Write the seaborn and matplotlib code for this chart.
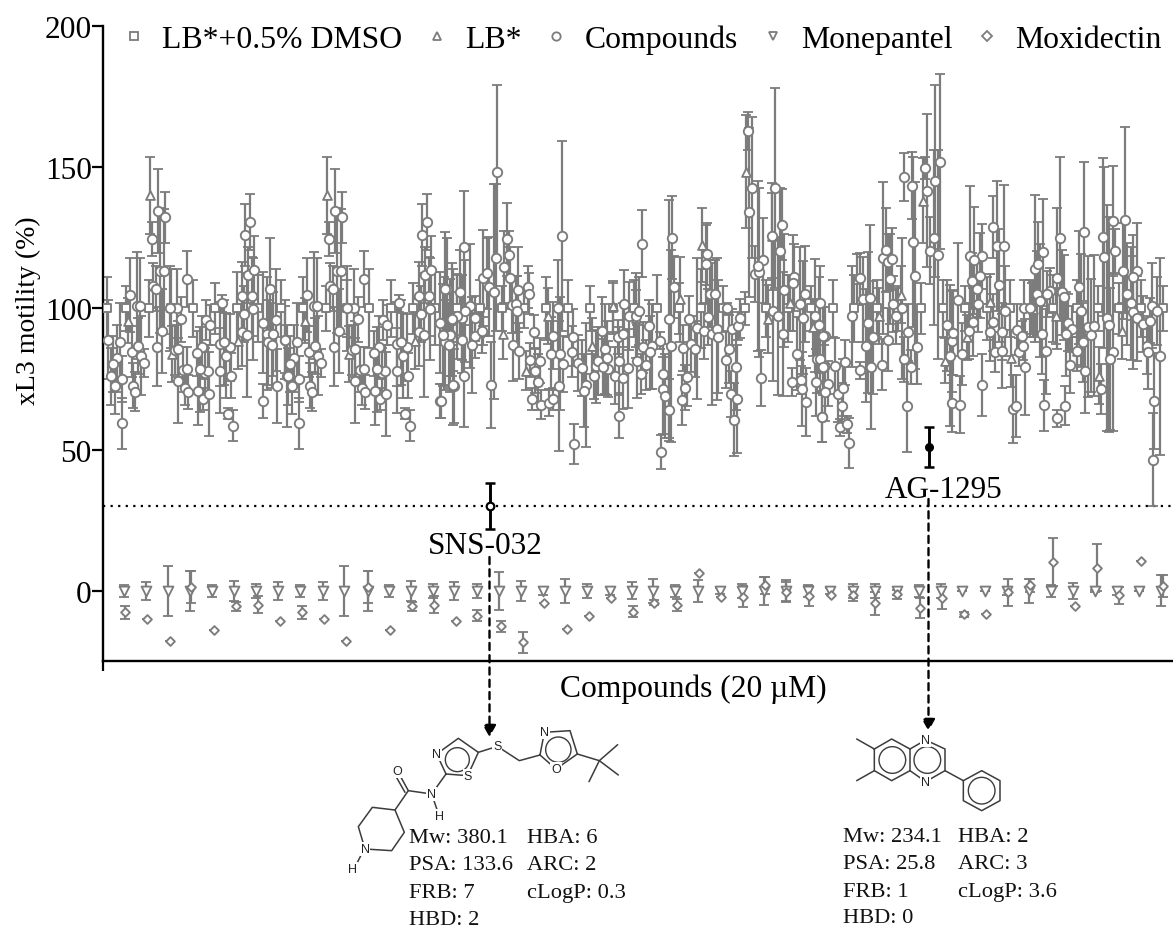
import matplotlib
matplotlib.use("Agg")
import matplotlib.pyplot as plt
import pandas as pd
import seaborn as sns
from matplotlib.lines import Line2D
from matplotlib.patches import Circle

# ---------- data ----------
dmso_x = [4, 23, 46, 68, 90, 112, 134, 155, 178, 200, 223, 244, 266, 288, 310, 332, 354, 377,
          399, 421, 443, 465, 487, 510, 531, 554, 576, 598, 620, 642, 663, 685, 708, 730,
          751, 774, 795, 818, 840, 862, 884, 907, 929, 950, 974, 995, 1016, 1038, 1060]
dmso_v = [100] * len(dmso_x)
dmso_e = [11, 8, 10, 14, 10, 9, 13, 12, 10, 11, 8, 10, 14, 10, 9, 13, 12, 10,
          8, 7, 11, 10, 8, 9, 10, 12, 9, 14, 8, 6, 10, 12, 8, 10,
          12, 10, 8, 9, 10, 8, 11, 10, 9, 12, 10, 8, 9, 10, 8]

lb_x = [25, 47, 69, 135, 202, 224, 246, 312, 380, 400, 423, 445, 489, 510, 533, 577, 599, 643, 665,
        669, 687, 710, 754, 776, 798, 820, 842, 864, 887, 908, 930, 953, 974, 996, 1019]
lb_v = [95.7, 140, 83.9, 88.6, 95.7, 140, 83.9, 88.6, 92, 91, 78, 97.4, 86.8, 100.7, 96.5, 103.3, 122.4,
        148.4, 96.3, 125.8, 102, 93.3, 110.4, 97.4, 104.9, 138.2, 81.5, 89.8, 102.2, 82.3, 99.8, 97.4, 85,
        76.2, 92.1]
lb_e = [8, 13.6, 10, 10, 8, 13.6, 10, 10, 5, 9, 7, 10, 10, 9, 10, 15, 13,
        20, 12, 15, 10, 10, 9, 10, 10, 15, 8, 8, 10, 10, 10, 10, 7,
        10, 10]

# first run of compounds
run1_x = [5, 17, 14, 10, 8, 19, 12, 19, 29, 35,
          38, 41, 30, 32, 27, 34, 37, 49, 55, 62,
          57, 61, 50, 53, 59, 54, 84, 78, 74, 67,
          72, 75, 80, 84, 75, 82, 85, 95, 100, 106,
          102, 105, 97, 103, 107, 119, 99, 94, 117, 123,
          127, 117, 121, 128, 125, 130, 139, 141, 139, 144,
          149, 150, 142, 147, 145, 151, 167, 160, 164, 165,
          169, 170, 173, 174, 160, 182, 184]
run1_v = [89, 88, 82.3, 80.3, 76, 75, 72.6, 59.4, 84.7, 86.8,
          83.3, 80.7, 72.6, 70.6, 104.8, 101, 100.7, 124.6, 134.5, 132.3,
          113.4, 113.1, 108, 107, 92, 86.4, 110.4, 96.2, 100, 100,
          85.3, 85.6, 78.3, 78.5, 74.4, 72, 70.3, 70.9, 67.9, 69.7,
          77, 78, 78.5, 96, 94.2, 101.9, 86.2, 84.2, 78, 83.3,
          86.2, 87.4, 88, 76.2, 62.8, 58.5, 104.5, 98, 91.5, 90.7,
          104.3, 99.8, 126, 130.7, 111.8, 113.6, 107, 95, 91, 88,
          87, 91, 96, 72.6, 67.3, 89, 76.2]
run1_e = [14, 14, 12, 10, 10, 8, 10, 9, 9, 10,
          14, 5, 8, 7, 13, 19, 17, 6, 15, 9,
          22, 22, 8, 8, 15, 14, 10, 8, 14, 15,
          9, 10, 8, 8, 15, 6, 6, 12, 4, 15,
          9, 9, 15, 7, 7, 3, 11, 8, 15, 15,
          12, 15, 15, 8, 2, 5.5, 12, 10, 12, 22,
          14, 18, 11, 10, 10, 12, 18, 18, 20, 15,
          15, 15, 18, 13, 6, 12, 18]

# the same run appears a second time further along the axis
run2_x = [182, 194, 191, 187, 185, 196, 189, 196, 206, 212,
          215, 218, 207, 209, 204, 211, 214, 226, 232, 239,
          234, 238, 227, 230, 236, 231, 261, 255, 251, 244,
          249, 252, 257, 261, 252, 259, 262, 272, 277, 283,
          279, 282, 274, 280, 284, 296, 276, 271, 294, 300,
          304, 294, 298, 305, 302, 307, 316, 318, 316, 321,
          326, 327, 319, 324, 322, 328, 344, 337, 341, 342,
          346, 347, 350, 351, 337, 359, 361]
run2_v = [89, 88, 82.3, 80.3, 76, 75, 72.6, 59.4, 84.7, 86.8,
          83.3, 80.7, 72.6, 70.6, 104.8, 101, 100.7, 124.6, 134.5, 132.3,
          113.4, 113.1, 108, 107, 92, 86.4, 110.4, 96.2, 100, 100,
          85.3, 85.6, 78.3, 78.5, 74.4, 72, 70.3, 70.9, 67.9, 69.7,
          77, 78, 78.5, 96, 94.2, 101.9, 86.2, 84.2, 78, 83.3,
          86.2, 87.4, 88, 76.2, 62.8, 58.5, 104.5, 98, 91.5, 90.7,
          104.3, 99.8, 126, 130.7, 111.8, 113.6, 107, 95, 91, 88,
          87, 91, 96, 72.6, 67.3, 89, 76.2]
run2_e = [14, 14, 12, 10, 10, 8, 10, 9, 9, 10,
          14, 5, 8, 7, 13, 19, 17, 6, 15, 9,
          22, 22, 8, 8, 15, 14, 10, 8, 14, 15,
          9, 10, 8, 8, 15, 6, 6, 12, 4, 15,
          9, 9, 15, 7, 7, 3, 11, 8, 15, 15,
          12, 15, 15, 8, 2, 5.5, 12, 10, 12, 22,
          14, 18, 11, 10, 10, 12, 18, 18, 20, 15,
          15, 15, 18, 13, 6, 12, 18]

run3_x = [338, 350, 369, 372, 372, 379, 361, 357, 359, 367,
          362, 354, 347, 340, 342, 349]
run3_v = [67.3, 72.9, 87, 96.5, 90.3, 92.1, 121.6, 105.7, 96.8, 101,
          99.2, 97.2, 90.6, 90.6, 106.9, 96.2]
run3_e = [6, 14, 17, 8, 8, 8, 20, 15, 15, 22,
          18, 15, 20, 18, 20, 20]

mid_x = [394, 459, 539, 569, 672, 645, 649, 646, 679, 669,
         660, 677, 404, 406, 401, 393, 407, 380, 384, 386,
         391, 415, 425, 426, 409, 413, 414, 410, 416, 388,
         431, 427, 437, 432, 435, 429, 438, 446, 450, 448,
         450, 455, 457, 460, 456, 471, 469, 470, 475, 479,
         483, 481, 491, 493, 495, 499, 502, 504, 505, 500,
         512, 515, 516, 520, 516, 520, 525, 521, 526, 533,
         536, 534, 538, 543, 540, 546, 549, 547, 557, 560,
         560, 562, 566, 566, 568, 571, 558, 580, 584, 582,
         579, 586, 588, 592, 594, 601, 604, 603, 605, 607,
         612, 609, 614, 615, 624, 626, 623, 633, 628, 634,
         631, 629, 635, 637, 658, 652, 656, 655, 670, 675,
         680, 681, 691, 690, 697, 702, 700, 694, 698, 699,
         689, 703, 717, 712, 716, 714, 722, 721, 713, 719]
mid_v = [148.4, 125.8, 123, 125, 142.5, 162.7, 142.8, 134, 129.7, 125.5,
         117, 120.5, 124.5, 119, 114.8, 118, 110.7, 110.7, 112.4, 107.7,
         106, 106.6, 107.7, 105.3, 101.2, 101.6, 99, 87, 85, 73,
         91.8, 81.8, 81.5, 78, 74, 68, 66, 66.7, 68, 84,
         90.4, 100, 84, 80.3, 72.6, 52, 84.7, 89.8, 80.7, 79,
         73, 70.9, 76, 79.5, 81.5, 92, 85.6, 82.5, 78.6, 79.2,
         76.2, 89.8, 81.5, 75.3, 62, 91, 78.8, 101.6, 97.4, 97.4,
         99, 81.3, 76.8, 80, 86.2, 93.9, 86.6, 84.5, 88.6, 76.8,
         71.5, 69, 64, 96.3, 86.6, 107.5, 49.3, 86, 75.6, 72,
         67.6, 96.3, 87.4, 85.6, 93, 92, 119.3, 115.7, 96.9, 105.3,
         105.3, 91, 92.7, 90, 100, 85.6, 81.8, 79.2, 69.7, 68,
         60.6, 92.7, 93.9, 96.5, 75.4, 112.2, 112.8, 115, 99.2, 97.2,
         91, 106.5, 111, 109, 101.6, 105, 96.8, 84, 74.7, 71.5,
         74, 67, 102, 97.4, 94, 82, 90.4, 79.2, 73.8, 61.7]
mid_e = [30.7, 33.6, 12, 14.7, 35.4, 6.7, 25, 30, 12.6, 19,
         14.9, 22, 13, 8.6, 12.7, 26, 11, 17, 12.7, 17.5,
         38, 15, 7.4, 7.4, 10, 10, 12.6, 12.7, 10, 15.3,
         6, 6, 8, 8, 10, 4, 5, 4.7, 4, 13,
         12, 17, 20, 10, 23, 7, 9, 10, 10, 10,
         22, 13, 8, 13, 12, 12, 16, 13, 10, 10,
         10, 6, 12, 11, 8, 11, 14, 12, 12, 15,
         12, 13, 7, 9, 9, 9, 15, 13, 3, 6,
         16, 15, 11, 42, 34, 11, 6, 8, 10, 8,
         9, 8, 10, 10, 25, 10, 11, 14, 10, 12,
         12, 25, 25, 20, 2, 12, 10, 15, 8, 19,
         13, 7, 5, 7, 10, 10, 30, 30, 25, 28,
         22, 20, 12, 17, 20, 17, 20, 13, 5, 13,
         5, 12, 13, 20, 17, 12, 10, 8, 12, 9]

right_x = [801, 809, 822, 824, 837, 832, 827, 831, 835, 810,
           812, 814, 801, 805, 808, 804, 749, 757, 760, 767,
           763, 770, 765, 768, 757, 779, 785, 780, 783, 785,
           789, 787, 790, 793, 799, 720, 717, 720, 732, 742,
           725, 722, 735, 740, 739, 719, 737, 744, 746, 844,
           849, 847, 855, 850, 859, 849, 857, 879, 867, 879,
           871, 869, 877, 874, 875, 870, 866, 890, 894, 901,
           896, 902, 890, 887, 892, 899, 899, 914, 919, 916,
           920, 922, 910, 913, 921, 927, 932, 935, 940, 934,
           937, 939, 943, 941, 957, 954, 947, 944, 959, 961,
           965, 969, 963, 967, 962, 954, 981, 976, 978, 985,
           991, 988, 980, 974, 982, 1000, 1001, 1010, 1012, 1004,
           1006, 1010, 1007, 998, 1022, 1020, 1034, 1030, 1024, 1028,
           1030, 1034, 1040, 1047, 1049, 1054, 1057, 1044, 1045, 1051,
           1050]
right_v = [146.5, 143.5, 149.7, 141.7, 152, 145, 120.5, 125, 119, 123.6,
           111.6, 86.2, 82, 91.5, 79.2, 65.6, 97.2, 110.7, 103.3, 103.7,
           86.8, 89.8, 95, 79.2, 78.2, 80.1, 89, 117.9, 120.7, 116.3,
           117.5, 110.4, 101.6, 97.4, 100, 90.4, 82, 79.2, 79.7, 81,
           73.3, 70.3, 69.7, 72, 65.6, 61.7, 58, 59, 52.4, 94,
           88.6, 83.3, 103.1, 91.3, 84, 66.4, 66, 73, 118.4, 118.4,
           117, 109.8, 111.6, 106.9, 101.6, 95.1, 92.1, 128.7, 122.2, 122.2,
           108.3, 99.2, 95.1, 91.5, 84.5, 85, 91.8, 92.5, 90.4, 84.5,
           86.8, 79.4, 64.4, 65.6, 100, 100, 114, 115.7, 119.9, 105.3,
           102.8, 90.9, 84.8, 65.8, 124.8, 110.7, 106.3, 105.1, 105.7, 104,
           95, 92.7, 91, 80, 65.6, 61.1, 127.2, 107.5, 99.2, 93.6,
           93.9, 90.6, 88, 85, 78, 125.4, 118.1, 131, 120.2, 96.8,
           94.3, 84.7, 82.1, 71.5, 131.4, 113.1, 113.4, 111, 105.1, 101.8,
           98.6, 96.5, 94.5, 95.7, 101, 99.2, 83, 86.8, 84.5, 67.4,
           46.4]
right_e = [8.5, 12, 4, 27, 31, 34, 12, 31, 37, 30,
           33, 13, 8, 10, 6, 16.5, 18, 9, 15, 26,
           20, 20, 25, 22, 3, 9, 11, 27, 15, 10,
           11, 16, 10, 10, 25, 10, 12, 10, 10, 8,
           8, 10, 10, 10, 8, 9, 3, 3, 9, 16,
           18, 25, 20, 15, 11, 10, 10, 11, 25, 11.5,
           19, 10, 15, 10, 10, 12, 10, 11, 23, 21.6,
           20, 16, 10, 10, 7, 13, 10, 9, 5, 5,
           5, 17, 12, 11, 10, 10, 26, 15, 19, 15,
           20, 14, 15, 9, 29, 25, 8, 8, 15, 15,
           10, 8, 15, 10, 7, 3, 24.5, 20, 20, 25,
           25, 20, 14, 5, 15, 28, 32, 19.4, 8, 40,
           38, 28, 25, 9, 33, 17, 17, 15, 18, 20,
           20, 15, 10, 8, 15, 12, 35, 10, 13, 17,
           16.5]

mon_x = [21, 43, 65, 87, 109, 131, 153, 175, 197, 220, 241, 265, 286, 308, 330, 351, 374, 396, 418, 440,
         462, 484, 507, 529, 550, 572, 595, 617, 639, 661, 683, 705, 727, 750, 772, 794, 816, 838, 859, 882,
         904, 926, 948, 970, 992, 1014, 1036, 1058]
mon_v = [0] * len(mon_x)
mon_e = [2, 3.3, 9, 7, 2, 3.4, 2.6, 3.3, 2, 3.3, 9, 7, 2, 3.4, 2.6, 3.3, 2.6, 6.7, 3.5, 1.5,
         4.4, 2.5, 1.5, 3, 4.4, 2, 4, 1, 2.4, 5, 3.8, 2, 1, 2.5, 2.4, 1.5, 2, 2.4, 0, 0,
         1.5, 4.4, 2, 2.7, 0.5, 1.5, 0, 5.5]

mox_x = [22, 44, 67, 88, 111, 133, 155, 177, 199, 221, 243, 265, 287, 309, 331, 353, 374, 398, 420, 441,
         464, 486, 508, 530, 551, 574, 596, 618, 640, 662, 683, 706, 728, 750, 772, 794, 817, 839, 861, 883,
         905, 927, 950, 972, 994, 1016, 1038, 1060]
mox_v = [-7.6, -10, -17.6, 1.5, -13.8, -5.5, -4.8, -10.7, -7.6, -10, -17.6, 1.5, -13.8, -5.5, -4.8, -10.7,
         -8.8, -12.5, -18.2, -4.4, -13.3, -8.8, -2.4, -7.4, -4.1, -5, 6.5, -2, -2, 2, -0.2, -1.8, -1.5, -1.4,
         -4.4, -1.2, -6.1, -2.5, -8.3, -8.1, -0.4, 2.1, 10.3, -5.3, 8.3, -1.5, 10.7, 1.8]
mox_e = [2.4, 0, 0, 5.7, 0, 1.5, 3, 0, 2.4, 0, 0, 5.7, 0, 1.5, 3, 0,
         2, 2, 3.7, 0, 0, 0, 0, 2, 1, 2, 0, 0, 3.6, 3, 3.5, 3.5, 0, 2,
         4, 1.5, 3.5, 4, 1, 0, 4.8, 2.3, 8.4, 0, 8.3, 3, 0, 4]

hit_x = [387, 826]
hit_v = [30, 51]
hit_e = [8.2, 7.2]
hit_names = ["SNS-032", "AG-1295"]
threshold = 30
y_ticks = [0, 50, 100, 150, 200]

props_a = [["Mw: 380.1", "PSA: 133.6", "FRB: 7", "HBD: 2"], ["HBA: 6", "ARC: 2", "cLogP: 0.3"]]
props_b = [["Mw: 234.1", "PSA: 25.8", "FRB: 1", "HBD: 0"], ["HBA: 2", "ARC: 3", "cLogP: 3.6"]]

# ---------- table ----------
comp_x = run1_x + run2_x + run3_x + mid_x + right_x
comp_v = run1_v + run2_v + run3_v + mid_v + right_v
comp_e = run1_e + run2_e + run3_e + mid_e + right_e
frames = []
for name, xs, vs, es in [("LB*+0.5% DMSO", dmso_x, dmso_v, dmso_e),
                         ("LB*", lb_x, lb_v, lb_e),
                         ("Compounds", comp_x, comp_v, comp_e),
                         ("Monepantel", mon_x, mon_v, mon_e),
                         ("Moxidectin", mox_x, mox_v, mox_e)]:
    frames.append(pd.DataFrame({"pos": xs, "motility": vs, "err": es, "group": name}))
df = pd.concat(frames, ignore_index=True)

# ---------- style ----------
sns.set_theme(style="ticks")
SERIF = ["Liberation Serif", "DejaVu Serif"]
plt.rcParams["font.family"] = SERIF
GREY = "#7c7c7c"
W, H = 1173, 929
fig = plt.figure(figsize=(W / 100, H / 100), dpi=100, facecolor="white")
ax = fig.add_axes([103 / W, 1 - 662 / H, (W - 103) / W, (662 - 27) / H])

markers = {"LB*+0.5% DMSO": "s", "LB*": "^", "Compounds": "o", "Monepantel": "v", "Moxidectin": "D"}
sizes = {"LB*+0.5% DMSO": 36, "LB*": 40, "Compounds": 46, "Monepantel": 50, "Moxidectin": 20}
order = ["LB*+0.5% DMSO", "LB*", "Compounds", "Monepantel", "Moxidectin"]
for i, g in enumerate(order):
    sub = df[df["group"] == g]
    ax.errorbar(sub["pos"], sub["motility"], yerr=sub["err"], fmt="none", ecolor=GREY,
                elinewidth=1.6, capsize=3.6, capthick=1.3, zorder=2 + i * 0.1)
for i, g in enumerate(order):
    sub = df[df["group"] == g]
    sns.scatterplot(data=sub, x="pos", y="motility", marker=markers[g], s=sizes[g], color="white",
                    edgecolor=GREY, linewidth=1.35, legend=False, ax=ax, zorder=3 + i * 0.1)

# highlighted hits
ax.errorbar(hit_x, hit_v, yerr=hit_e, fmt="none", ecolor="black", elinewidth=2.1, capsize=3.6, capthick=1.8, zorder=5)
sns.scatterplot(x=hit_x[:1], y=hit_v[:1], marker="o", s=30, color="white", edgecolor="black", linewidth=1.6,
                legend=False, ax=ax, zorder=6)
sns.scatterplot(x=hit_x[1:], y=hit_v[1:], marker="o", s=30, color="black", edgecolor="black", linewidth=1,
                legend=False, ax=ax, zorder=6)
ax.axhline(threshold, color="black", ls=(0, (1, 2.4)), lw=1.6, zorder=1)

ax.set_xlim(0, W - 103)
ax.set_ylim(-24.8, 200)
ax.set_yticks(y_ticks)
ax.set_xticks([0])
ax.set_xticklabels([""])
ax.tick_params(axis="y", labelsize=22.6, length=8, width=1.6, pad=0, color="black", labelcolor="black")
ax.tick_params(axis="x", length=7, width=1.6, color="black")
sns.despine(ax=ax)
for s in ("left", "bottom"):
    ax.spines[s].set_linewidth(1.7)
    ax.spines[s].set_color("black")
ax.set_xlabel("Compounds (20 µM)", fontsize=22.7, color="black")
ax.xaxis.set_label_coords((693 - 103) / (W - 103), (662 - 689) / 635)
ax.xaxis.label.set_verticalalignment("center")
ax.set_ylabel("xL3 motility (%)", fontsize=20, color="black")
ax.yaxis.set_label_coords((28 - 103) / (W - 103), (662 - 311) / 635)
ax.yaxis.label.set_verticalalignment("center")

# legend
handles = [Line2D([], [], ls="none", marker=markers[g], mfc="white", mec=GREY, mew=1.3,
                  ms={"LB*+0.5% DMSO": 5.8, "LB*": 6, "Compounds": 6, "Monepantel": 6.4, "Moxidectin": 4.6}[g],
                  label=g) for g in order]
leg = ax.legend(handles=handles, ncol=5, frameon=False, fontsize=22.9, handlelength=1, handletextpad=0.38,
                columnspacing=0.6, borderpad=0, borderaxespad=0, loc="center left",
                bbox_to_anchor=(118 / W, 1 - 40 / H), bbox_transform=fig.transFigure)
for t in leg.get_texts():
    t.set_color("black")

# ---------- overlay for annotations and structures (pixel coordinates) ----------
ov = fig.add_axes([0, 0, 1, 1], facecolor="none", zorder=10)
ov.set_xlim(0, W)
ov.set_ylim(H, 0)
ov.axis("off")

ov.text(485, 546, hit_names[0], fontsize=22.5, ha="center", va="center", color="black")
ov.text(944, 490, hit_names[1], fontsize=22.5, ha="center", va="center", color="black")
for x0, y0, y1 in [(489.5, 558, 738), (928.5, 500, 732)]:
    ov.annotate("", xy=(x0, y1), xytext=(x0, y0),
                arrowprops=dict(arrowstyle="-|>,head_length=0.5,head_width=0.28", linestyle=(0, (3, 2.2)), lw=1.7,
                                color="black", shrinkA=0, shrinkB=0, mutation_scale=14))

BOND = "#3c3c3c"


def bonds(path, ox, oy, lw=1.1):
    xs = [ox + p[0] / 3 for p in path]
    ys = [oy + p[1] / 3 for p in path]
    ov.plot(xs, ys, color=BOND, lw=lw, solid_capstyle="round", solid_joinstyle="round")


def atom(label, p, ox, oy):
    ov.text(ox + p[0] / 3, oy + p[1] / 3, label, fontsize=9, ha="center", va="center", color="#222222",
            family=["Liberation Sans"], bbox=dict(fc="white", ec="none", pad=0.6))


def ring_circle(cx, cy, r, ox, oy):
    ov.add_patch(Circle((ox + cx / 3, oy + cy / 3), r / 3, fc="none", ec=BOND, lw=1.0))


# SNS-032
ax_, ay_ = 340, 730
bonds([(75, 360), (55, 293), (97, 235), (165, 243), (193, 310), (155, 365), (75, 360)], ax_, ay_)
bonds([(70, 365), (42, 420)], ax_, ay_)
bonds([(165, 243), (205, 185), (275, 195), (298, 262)], ax_, ay_)
bonds([(205, 185), (172, 125)], ax_, ay_)
bonds([(195, 190), (162, 132)], ax_, ay_)
bonds([(275, 195), (318, 135), (290, 75), (355, 28), (415, 70), (383, 140), (318, 135)], ax_, ay_)
ring_circle(352, 92, 36, ax_, ay_)
bonds([(415, 70), (472, 52), (538, 95), (600, 78), (613, 10), (690, 5), (712, 75), (648, 120), (600, 78)], ax_, ay_)
ring_circle(655, 62, 38, ax_, ay_)
bonds([(712, 75), (778, 95), (833, 47)], ax_, ay_)
bonds([(778, 95), (835, 138)], ax_, ay_)
bonds([(778, 95), (747, 158)], ax_, ay_)
for lab, p in [("N", (75, 360)), ("H", (38, 420)), ("O", (172, 125)), ("N", (275, 195)), ("H", (298, 262)),
               ("N", (290, 75)), ("S", (383, 140)), ("S", (472, 52)), ("N", (613, 10)), ("O", (648, 120))]:
    atom(lab, p, ax_, ay_)

# AG-1295
bx_, by_ = 830, 730
bonds([(80, 30), (133, 60), (185, 30), (240, 60), (240, 125), (185, 155), (133, 125), (133, 60)], bx_, by_)
bonds([(80, 155), (133, 125)], bx_, by_)
bonds([(240, 60), (287, 33), (345, 60), (345, 125), (287, 158), (240, 125)], bx_, by_)
bonds([(345, 125), (400, 155), (455, 125), (510, 155), (510, 215), (455, 245), (400, 215), (400, 155)], bx_, by_)
for c in [(187, 93), (292, 93), (455, 185)]:
    ring_circle(c[0], c[1], 40, bx_, by_)
for lab, p in [("N", (287, 33)), ("N", (287, 158))]:
    atom(lab, p, bx_, by_)

for props, col_x, ys in [(props_a, (409, 527), (839, 866, 894, 921)), (props_b, (843, 958), (838, 865, 893, 919))]:
    for col, cx in zip(props, col_x):
        for txt, yy in zip(col, ys):
            ov.text(cx, yy, txt, fontsize=16.2, ha="left", va="center", color="#111111")

fig.savefig("out.png", dpi=100, facecolor="white")
